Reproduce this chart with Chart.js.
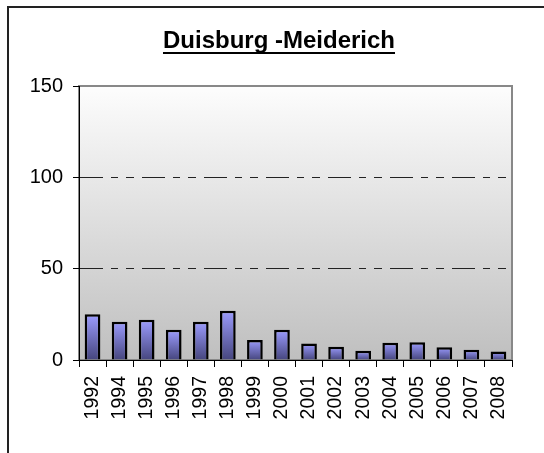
<!DOCTYPE html>
<html>
<head>
<meta charset="utf-8">
<script src="https://cdn.jsdelivr.net/npm/chart.js@4"></script>
<style>
  html, body { margin: 0; padding: 0; background: #fff; }
  #wrap { position: relative; width: 544px; height: 453px; }
</style>
</head>
<body>
<div id="wrap"><canvas id="meiderichChart" width="544" height="453"></canvas></div>
<script>
// data
var years = ['1992', '1994', '1995', '1996', '1997', '1998', '1999', '2000',
             '2001', '2002', '2003', '2004', '2005', '2006', '2007', '2008'];
var values = [25, 21, 22, 16.5, 21, 27, 11, 16.5, 9, 7.3, 5, 9.5, 9.7, 7, 5.6, 4.6];
var yTicks = [0, 50, 100, 150];
var chartTitle = 'Duisburg -Meiderich';

// frame, plot background, title placement and underline
var decor = {
    id: 'decor',
    afterLayout: function (chart) {
        // title is centred over 46..512 in the original
        chart.titleBlock.left = 46;
        chart.titleBlock.right = 512;
    },
    beforeDraw: function (chart) {
        var ctx = chart.ctx, a = chart.chartArea;
        ctx.save();
        ctx.strokeStyle = '#222';
        ctx.lineWidth = 2;
        ctx.beginPath();
        ctx.moveTo(8, 460);
        ctx.lineTo(8, 7);
        ctx.lineTo(544, 7);
        ctx.stroke();

        var g = ctx.createLinearGradient(0, a.top, 0, a.bottom);
        g.addColorStop(0, '#fdfdfd');
        g.addColorStop(1, '#bfbfbf');
        ctx.fillStyle = g;
        ctx.fillRect(a.left, a.top, a.right - a.left, a.bottom - a.top);
        ctx.strokeStyle = '#888';
        ctx.lineWidth = 2;
        ctx.strokeRect(a.left, a.top, a.right - a.left, a.bottom - a.top);
        ctx.restore();
    },
    afterDraw: function (chart) {
        var ctx = chart.ctx, t = chart.titleBlock;
        ctx.save();
        ctx.font = 'bold 24px Arial, "Liberation Sans"';
        var w = ctx.measureText(chartTitle).width;
        var cx = (t.left + t.right) / 2;
        ctx.strokeStyle = '#000';
        ctx.lineWidth = 2;
        ctx.beginPath();
        ctx.moveTo(cx - w / 2, 53);
        ctx.lineTo(cx + w / 2, 53);
        ctx.stroke();
        ctx.restore();
    }
};

var ctx = document.getElementById('meiderichChart').getContext('2d');

// each bar gets its own light-to-dark blue fade
var barFill = function (c) {
    var a = c.chart.chartArea;
    var ys = c.chart.scales.y;
    if (!a || !ys) return '#8888ee';
    var top = ys.getPixelForValue(c.raw);
    var g = c.chart.ctx.createLinearGradient(0, top, 0, a.bottom);
    g.addColorStop(0, '#9c9cff');
    g.addColorStop(1, '#46467e');
    return g;
};

new Chart(ctx, {
    type: 'bar',
    data: {
        labels: years,
        datasets: [{
            data: values,
            backgroundColor: barFill,
            borderColor: '#000',
            borderWidth: 2.5,
            barPercentage: 0.58,
            categoryPercentage: 1
        }]
    },
    plugins: [decor],
    options: {
        responsive: false,
        animation: false,
        layout: { padding: { left: 0, right: 32, top: 0, bottom: 0 } },
        plugins: {
            legend: { display: false },
            tooltip: { enabled: false },
            title: {
                display: true,
                text: chartTitle,
                color: '#000',
                font: { family: 'Arial, "Liberation Sans"', size: 24, weight: 'bold' },
                padding: { top: 27, bottom: 30.2 }
            }
        },
        scales: {
            x: {
                afterFit: function (s) { s.height = 93; },
                grid: {
                    offset: true,
                    color: 'rgba(0,0,0,0)',
                    tickColor: '#000',
                    tickLength: 7
                },
                border: { display: true, color: '#000', width: 1 },
                ticks: {
                    color: '#000',
                    font: { family: 'Arial, "Liberation Sans"', size: 19.5 },
                    minRotation: 90,
                    maxRotation: 90,
                    padding: 9,
                    autoSkip: false
                }
            },
            y: {
                min: 0,
                max: 150,
                afterFit: function (s) { s.width = 79; },
                afterBuildTicks: function (s) {
                    s.ticks = yTicks.map(function (v) { return { value: v }; });
                },
                grid: {
                    color: function (c) {
                        var v = c.tick ? c.tick.value : 0;
                        return (v === 0 || v === 150) ? 'rgba(0,0,0,0)' : '#222';
                    },
                    tickColor: '#000',
                    tickLength: 6,
                    lineWidth: 1
                },
                border: { display: true, color: '#000', width: 1, dash: [23, 8, 7, 8, 8, 8] },
                ticks: {
                    color: '#000',
                    font: { family: 'Arial, "Liberation Sans"', size: 20 },
                    padding: 10
                }
            }
        }
    }
});
</script>
</body>
</html>
